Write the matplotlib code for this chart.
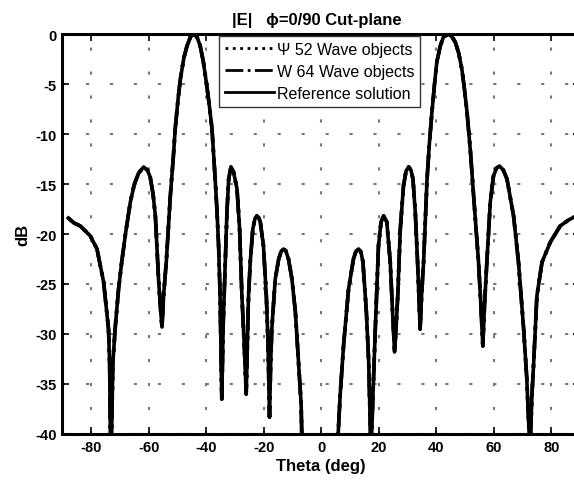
import matplotlib
matplotlib.use("Agg")
import matplotlib.pyplot as plt
import numpy as np

plt.rcParams['font.family'] = ['Liberation Sans', 'DejaVu Sans']

# Theta (deg) and |E| (dB)
theta = [
    -88.0, -86.0, -83.8, -80.3, -78.0, -75.7, -74.0, -73.6, -73.2,
    -72.5, -71.7, -70.5, -69.4, -68.0, -66.4, -65.0, -63.5, -61.8, -60.5, -59.5, -58.5, -57.7, -56.6, -55.9, -55.4,
    -54.8, -53.9, -52.5, -51.5, -50.8, -49.8, -49.0, -47.8, -46.7, -45.5, -44.4, -43.2, -42.1, -41.0, -39.8, -38.9,
    -38.0, -36.9, -36.3, -35.7, -35.2, -34.6,
    -34.1, -33.4, -32.8, -32.2, -31.4, -30.5, -29.3, -28.4, -27.6, -26.8, -26.1,
    -25.6, -25.3, -24.7, -23.8, -23.0, -22.4, -21.7, -21.2, -20.1, -19.1, -18.5, -18.0,
    -17.6, -17.2, -16.0, -14.8, -13.9, -13.1, -12.3, -11.4, -10.2, -9.0, -7.9, -7.0, -6.4,
    0.0,
    5.7, 6.6, 7.8, 9.5, 11.2, 12.1, 13.0, 13.8, 14.5, 15.7, 16.5, 17.3,
    18.0, 18.8, 19.9, 20.8, 21.7, 22.8, 24.0, 24.8, 25.5,
    26.1, 26.6, 27.5, 28.6, 29.5, 30.4, 31.2, 31.9, 32.7, 33.5, 34.4,
    35.0, 35.6, 36.8, 37.6, 38.5, 39.4, 40.2, 41.4, 42.5, 44.3, 45.5, 46.6, 47.8, 48.9, 49.8, 50.7, 51.9, 53.0,
    54.7, 55.5, 56.2,
    56.8, 57.6, 58.8, 59.9, 61.0, 62.0, 63.3, 64.6, 66.9, 68.6, 70.4, 71.5, 72.6,
    73.3, 73.9, 75.0, 76.8, 79.7, 83.1, 86.0, 88.0,
]
ref_db = [
    -18.4, -18.9, -19.2, -20.2, -21.5, -24.8, -29.5, -33.0, -45.0,
    -33.0, -29.5, -25.5, -22.8, -19.8, -16.8, -15.0, -13.9, -13.3, -13.6, -14.3, -16.0, -18.2, -24.5, -27.5, -29.3,
    -26.0, -22.8, -16.2, -12.5, -9.5, -6.5, -4.5, -2.4, -1.2, -0.3, 0.0, -0.3, -1.2, -2.8, -5.2, -7.2,
    -9.5, -14.5, -17.5, -21.2, -26.0, -36.5,
    -29.0, -22.8, -17.8, -14.5, -13.3, -13.8, -15.5, -19.5, -26.2, -31.0, -36.0,
    -30.0, -26.2, -22.8, -19.5, -18.4, -18.2, -18.4, -18.8, -21.2, -26.2, -31.0, -38.3,
    -33.0, -29.5, -24.5, -22.5, -21.7, -21.5, -21.7, -22.5, -24.5, -27.8, -32.8, -37.0, -45.0,
    -45.0,
    -41.0, -36.0, -31.0, -25.5, -22.5, -21.7, -21.5, -21.8, -22.8, -27.8, -32.8, -42.0,
    -36.0, -29.5, -21.2, -18.8, -18.2, -18.8, -22.8, -27.8, -31.8,
    -29.0, -26.2, -19.5, -15.2, -13.7, -13.3, -13.6, -14.5, -17.8, -22.8, -29.5,
    -25.5, -22.8, -14.5, -11.0, -7.8, -5.0, -2.8, -1.2, -0.3, 0.0, -0.3, -0.8, -1.9, -3.5, -5.5, -7.8, -11.8, -16.2,
    -22.8, -27.0, -31.2,
    -27.0, -22.8, -16.8, -14.2, -13.4, -13.2, -13.6, -14.5, -18.2, -22.8, -29.5, -34.5, -42.0,
    -36.0, -32.8, -26.2, -22.8, -20.8, -19.2, -18.6, -18.3,
]
# The two wave-object solutions coincide with the reference at this scale
psi52_db = list(ref_db)
w64_db = list(ref_db)

x_ticks = [-80, -60, -40, -20, 0, 20, 40, 60, 80]
y_ticks = [0, -5, -10, -15, -20, -25, -30, -35, -40]
labels = ['\u03a8 52 Wave objects', 'W 64 Wave objects', 'Reference solution']

fig = plt.figure(figsize=(5.74, 4.85), dpi=100)
ax = fig.add_axes([62.5 / 574, 50 / 485, 517.5 / 574, 400 / 485])

ax.plot(theta, psi52_db, color='black', lw=2.6, ls=':', label=labels[0])
ax.plot(theta, w64_db, color='black', lw=2.6, ls='-.', label=labels[1])
ax.plot(theta, ref_db, color='black', lw=2.6, ls='-', label=labels[2])

ax.set_xlim(-90, 90)
ax.set_ylim(-40, 0)
ax.set_xticks(x_ticks)
ax.set_yticks(y_ticks)
ax.set_xticklabels([str(v) for v in x_ticks], fontsize=10.5, fontweight='bold')
ax.set_yticklabels([str(v) for v in y_ticks], fontsize=10.5, fontweight='bold')
ax.tick_params(direction='in', length=5, width=1.2, top=True, right=True, pad=4)
for s in ax.spines.values():
    s.set_linewidth(2.2)
ax.grid(True, color='#777777', ls=(0, (1.5, 10)), lw=1.5)

ax.set_xlabel('Theta (deg)', fontsize=12, fontweight='bold', labelpad=3)
ax.set_ylabel('dB', fontsize=12, fontweight='bold', labelpad=4)
fig.text(317 / 574, 1 - 21 / 485, '|E|   \u03d5=0/90 Cut-plane', ha='center', va='center',
         fontsize=12, fontweight='bold')

leg = ax.legend(loc='upper left', bbox_to_anchor=(219 / 574, 1 - 37 / 485),
                bbox_transform=fig.transFigure, fontsize=11.5, handlelength=3.1,
                handletextpad=0.2, borderpad=0.35, labelspacing=0.45,
                fancybox=False, framealpha=1, edgecolor='#333333', borderaxespad=0)
leg.get_frame().set_linewidth(1.0)
for l in leg.get_lines():
    l.set_linewidth(2.0)

fig.savefig('out.png', dpi=100)
